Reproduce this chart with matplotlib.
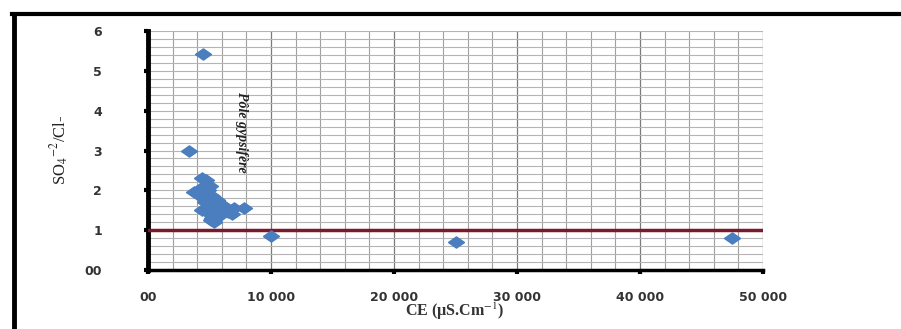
import matplotlib
matplotlib.use('Agg')
import matplotlib.pyplot as plt
from matplotlib.lines import Line2D
from matplotlib.ticker import MultipleLocator, FixedLocator
import numpy as np

plt.rcParams['mathtext.fontset'] = 'stix'

# CE (uS/cm) and SO4/Cl ratio
ce = [4500, 3300,
      4400, 4700, 5000, 4300, 3700, 4500, 5200, 4600, 5000, 4400,
      5500, 6000, 6500, 7000, 7800, 5300, 5800, 5100, 5400, 4800,
      4900, 5600, 6200, 6800, 5200, 4500, 5600,
      10000, 25000, 47500]
ratio = [5.42, 3.0,
         2.3, 2.25, 2.1, 2.05, 1.95, 1.9, 1.85, 1.7, 1.6, 1.5,
         1.55, 1.5, 1.45, 1.55, 1.55, 1.4, 1.35, 1.25, 1.2, 1.45,
         2.0, 1.65, 1.6, 1.4, 1.3, 1.8, 1.75,
         0.85, 0.7, 0.8]

xticks = [0, 10000, 20000, 30000, 40000, 50000]
xlabels = ['00', '10 000', '20 000', '30 000', '40 000', '50 000']
yticks = [0, 1, 2, 3, 4, 5, 6]
ylabels = ['00', '1', '2', '3', '4', '5', '6']

fig = plt.figure(figsize=(9.01, 3.29), dpi=100)
ax = fig.add_axes([148/901, 1-270/329, 615/901, 239/329])

# outer frame (top and left only visible)
fig.add_artist(Line2D([14/901, 14/901], [0, 1-14/329], color='black', lw=3.5))
fig.add_artist(Line2D([12/901, 1], [1-14/329, 1-14/329], color='black', lw=3))

# flattened diamond marker
diamond = [(-1, 0), (0, 0.7), (1, 0), (0, -0.7), (-1, 0)]
ax.plot(ce, ratio, linestyle='none', marker=diamond, markersize=11.5,
        color='#4a7ebf', zorder=4)

ax.axhline(1, color='#7b1a2c', lw=2.5, zorder=3)

ax.set_xlim(0, 50000)
ax.set_ylim(0, 6)
ax.xaxis.set_major_locator(FixedLocator(xticks))
ax.yaxis.set_major_locator(FixedLocator(yticks))
ax.xaxis.set_minor_locator(MultipleLocator(2000))
ax.yaxis.set_minor_locator(MultipleLocator(0.2))
ax.set_xticklabels(xlabels)
ax.set_yticklabels(ylabels)

ax.grid(axis='x', which='major', color='#7a7a7a', lw=0.9, zorder=0)
ax.grid(axis='x', which='minor', color='#a0a0a0', lw=0.8, zorder=0)
ax.grid(axis='y', which='both', color='#b4b4b4', lw=0.8, zorder=0)
ax.set_axisbelow(True)

for s in ['top', 'right']:
    ax.spines[s].set_visible(False)
ax.spines['left'].set_linewidth(3.5)
ax.spines['bottom'].set_linewidth(2.5)

ax.tick_params(which='minor', length=0)
ax.tick_params(axis='y', which='major', length=3, width=3, pad=30,
               labelsize=9, labelcolor='#333333')
ax.tick_params(axis='x', which='major', length=3, width=3, pad=12,
               labelsize=9, labelcolor='#333333')
for lbl in ax.get_xticklabels() + ax.get_yticklabels():
    lbl.set_fontweight('bold')

ax.text(7600, 3.45, 'Pôle gypsifère', rotation=-90, ha='center', va='center',
        fontsize=10, fontstyle='italic', fontweight='bold',
        family='Liberation Serif', color='#222222')

fig.text(60/901, 1-150/329, r'SO$_4$$^{-2}$/Cl-', rotation=90,
         ha='center', va='center', fontsize=12, family='Liberation Serif',
         color='#222222')
fig.text(455/901, 1-311/329, r'CE (µS.Cm$^{-1}$)', ha='center', va='center',
         fontsize=11.5, fontweight='bold', family='Liberation Serif',
         color='#333333')

fig.savefig('out.png', dpi=100)
